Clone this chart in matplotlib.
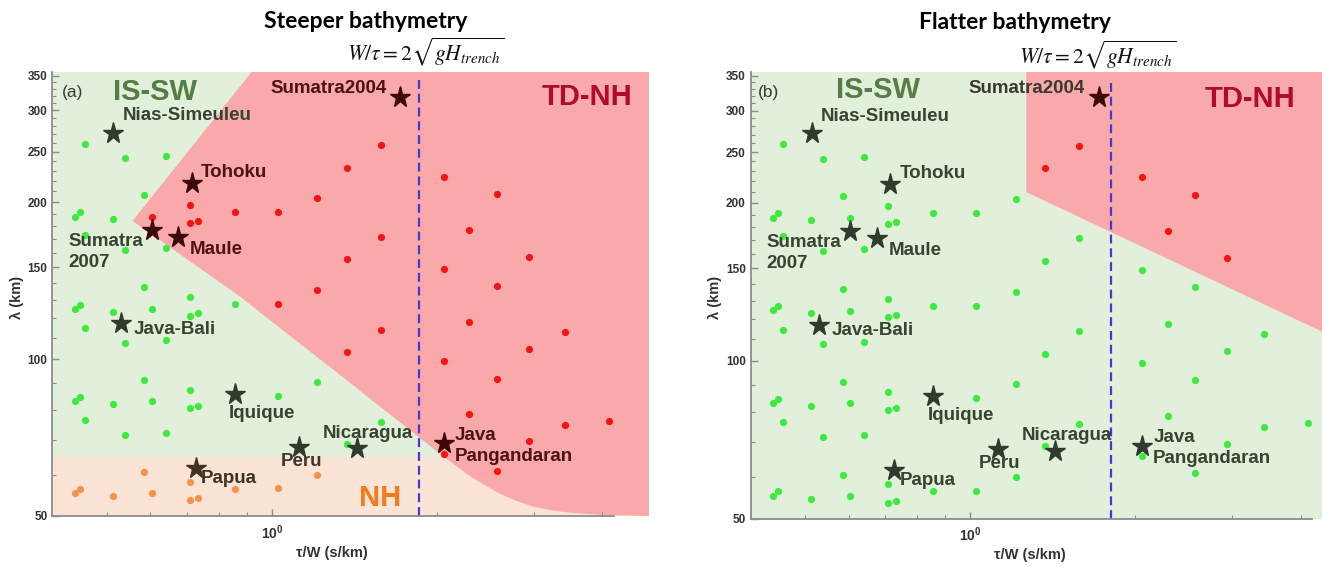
import matplotlib
matplotlib.use('Agg')
import matplotlib.pyplot as plt
from matplotlib.ticker import FixedLocator, FixedFormatter, NullFormatter

plt.rcParams['font.family'] = ['Liberation Sans', 'DejaVu Sans']
plt.rcParams['mathtext.fontset'] = 'custom'
plt.rcParams['mathtext.rm'] = 'Liberation Sans'
plt.rcParams['mathtext.bf'] = 'Liberation Sans:bold'

# model runs: tau/W (s/km) and wavelength lambda (km)
tau_w = [0.437, 0.447, 0.5126, 0.586, 0.604, 0.708, 0.708, 0.733, 0.857, 1.026, 1.211,
         0.437, 0.447, 0.5126, 0.586, 0.604, 0.708, 0.708, 0.733, 1.026, 1.211,
         0.437, 0.447, 0.5126, 0.586, 0.604, 0.708, 0.708, 0.733, 0.857, 1.026, 1.211,
         0.437, 0.447, 0.5126, 0.586, 0.604, 0.708, 0.708, 0.733, 0.857, 1.026, 1.211,
         0.456, 0.539, 0.641, 1.37, 1.58, 2.056, 2.291, 2.573, 2.943, 3.43, 4.124,
         0.456, 0.539, 0.641, 1.37, 1.58, 2.056, 2.291, 2.573, 2.943, 3.43,
         0.456, 0.539, 0.641, 1.37, 1.58, 2.056, 2.291, 2.573, 2.943,
         0.456, 0.539, 0.641, 1.37, 1.58, 2.056, 2.573]
lam = [55.3, 56.3, 54.5, 60.6, 55.3, 58.2, 53.6, 54.1, 56.4, 56.5, 59.9,
       83.2, 84.5, 82.0, 91.2, 83.0, 87.3, 80.7, 81.4, 84.8, 90.3,
       124.9, 126.9, 123.3, 137.3, 124.6, 131.3, 121.2, 122.4, 127.3, 127.3, 135.5,
       187.6, 191.2, 185.4, 206.1, 187.6, 197.6, 182.1, 184.1, 191.5, 191.5, 203.7,
       76.3, 71.5, 72.2, 68.7, 75.7, 65.9, 78.3, 61.0, 69.5, 74.9, 76.2,
       114.6, 107.6, 108.6, 103.1, 113.8, 99.0, 117.7, 91.7, 104.5, 112.5,
       173.0, 161.7, 163.2, 155.3, 171.3, 148.8, 176.9, 138.3, 157.1,
       258.8, 242.9, 245.1, 233.1, 257.3, 223.7, 207.0]
# regime of each run: G = IS-SW, R = TD-NH, O = NH
regime_steep = list('OOOOOOOOOOO' 'GGGGGGGGGG' 'GGGGGGGGGRR' 'GGGGRRRRRRR'
                    'GGGGGRRRRRR' 'GGGRRRRRRR' 'GGGRRRRRR' 'GGGRRRR')
regime_flat = list('GGGGGGGGGGG' 'GGGGGGGGGG' 'GGGGGGGGGGG' 'GGGGGGGGGGG'
                   'GGGGGGGGGGG' 'GGGGGGGGGG' 'GGGGGGRGR' 'GGGRRRR')

# historical events
events = ['Nias-Simeuleu', 'Sumatra2004', 'Tohoku', 'Sumatra\n2007', 'Maule', 'Java-Bali',
          'Iquique', 'Peru', 'Nicaragua', 'Papua', 'Java\nPangandaran']
event_tau_w = [0.514, 1.714, 0.7145, 0.604, 0.6755, 0.531, 0.857, 1.122, 1.427, 0.726, 2.056]
event_lam = [272.0, 318.0, 217.5, 177.0, 171.8, 117.2, 85.6, 67.9, 67.4, 61.8, 68.9]
event_regime_steep = ['G', 'R', 'R', 'R', 'R', 'G', 'G', 'G', 'G', 'O', 'R']
event_text_steep = ['G', 'R', 'R', 'G', 'R', 'G', 'G', 'N', 'G', 'O', 'R']
event_regime_flat = ['G', 'R', 'G', 'G', 'G', 'G', 'G', 'G', 'G', 'G', 'G']
event_text_flat = ['G', 'N', 'G', 'G', 'G', 'G', 'G', 'G', 'G', 'G', 'G']

# regime boundaries
steep_td_x = [0.9194, 0.5574, 0.8753, 1.126, 1.294, 1.492, 1.714, 1.857, 2.054, 2.272,
              2.45, 2.61, 2.8, 3.0, 3.22, 3.46, 3.7, 3.97, 4.25, 4.56, 4.87, 4.87]
steep_td_y = [356, 184.2, 131.8, 107.0, 95.5, 84.8, 75.6, 70.75, 65.1, 60.1,
              57.2, 55.1, 53.4, 52.1, 51.3, 50.8, 50.5, 50.3, 50.15, 50.08, 50.03, 356]
steep_nh_top = 65.0
flat_td_x = [1.265, 1.265, 4.87, 4.87]
flat_td_y = [356, 209.8, 107.8, 356]
trench_line = {'steep': 1.858, 'flat': 1.805}

xmin, xmax = 0.398, 4.87
ymin, ymax = 50, 356

bg_green = '#e2efda'
bg_red = '#f9a9a9'
bg_nh = '#fbe3d5'
pt_col = {'G': '#3fea3f', 'R': '#f51414', 'O': '#f4934a'}
star_col = {'G': '#2f3b2c', 'R': '#3c0808', 'O': '#3e3424'}
text_col = {'G': '#364432', 'R': '#4e1212', 'O': '#3e3424', 'N': '#3e3830'}

# label offsets in points (dx, dy) and alignment
offsets = [(6.8, 12.0), (-10, 6.5), (6.7, 7.7), (-60, -16.2), (8.4, -9.6), (9.1, -4.3),
           (-4.3, -13.7), (-13.3, -10.8), (-24.2, 10.8), (3.9, -7.2), (8.1, -1.6)]
aligns = ['left', 'right', 'left', 'left', 'left', 'left', 'left', 'left', 'left', 'left', 'left']

W, H = 1322, 566
fig = plt.figure(figsize=(W / 100, H / 100), dpi=100)


def make_axes(left_px, top_px, bottom_px):
    width_px = 596.7
    return fig.add_axes([left_px / W, 1 - bottom_px / H, width_px / W, (bottom_px - top_px) / H])


def style_axes(ax):
    ax.set_xscale('log')
    ax.set_yscale('log')
    ax.set_xlim(xmin, xmax)
    ax.set_ylim(ymin, ymax)
    ax.set_facecolor(bg_green)
    for s in ['top', 'right']:
        ax.spines[s].set_visible(False)
    for s in ['left', 'bottom']:
        ax.spines[s].set_color('#8c8c8c')
        ax.spines[s].set_linewidth(1.3)
    ax.spines['bottom'].set_bounds(xmin, 4.2)
    ax.xaxis.set_major_locator(FixedLocator([1.0]))
    ax.xaxis.set_major_formatter(FixedFormatter([r'$\mathbf{10^{0}}$']))
    ax.xaxis.set_minor_locator(FixedLocator([0.5, 0.6, 0.7, 0.8, 0.9, 2, 3, 4]))
    ax.xaxis.set_minor_formatter(NullFormatter())
    ax.yaxis.set_major_locator(FixedLocator([50, 100, 150, 200, 250, 300, 350]))
    ax.yaxis.set_major_formatter(FixedFormatter(['50', '100', '150', '200', '250', '300', '350']))
    ax.yaxis.set_minor_locator(FixedLocator([v for v in range(60, 350, 10) if v % 50 != 0]))
    ax.yaxis.set_minor_formatter(NullFormatter())
    ax.tick_params(which='both', direction='in', color='#8c8c8c', labelcolor='#333333',
                   labelsize=8.5)
    ax.tick_params(which='major', length=5, width=1)
    ax.tick_params(which='minor', length=3, width=0.8)
    ax.tick_params(axis='x', pad=5, labelsize=10)
    for lab in ax.get_xticklabels() + ax.get_yticklabels():
        lab.set_fontweight('bold')


def draw_panel(ax, regimes, ev_regimes, ev_text, dash_x):
    ax.plot([dash_x, dash_x], [ymin, 345], color='#4a36d6', lw=1.6, dashes=(4, 2.2), zorder=2)
    for reg in ['G', 'O', 'R']:
        xs = [x for x, r in zip(tau_w, regimes) if r == reg]
        ys = [y for y, r in zip(lam, regimes) if r == reg]
        ax.plot(xs, ys, 'o', ms=5.2, color=pt_col[reg], mec='none', zorder=3)
    for i, name in enumerate(events):
        c = star_col[ev_regimes[i]]
        ax.plot(event_tau_w[i], event_lam[i], marker='*', ms=15.5, color=c, mec=c, zorder=4)
        ax.annotate(name, (event_tau_w[i], event_lam[i]), xytext=offsets[i],
                    textcoords='offset points', ha=aligns[i], va='center',
                    fontsize=13.5, fontweight='bold', color=text_col[ev_text[i]],
                    linespacing=1.3, zorder=5)


# (a) steeper bathymetry
ax1 = make_axes(52.3, 71.7, 516)
style_axes(ax1)
ax1.fill_between([xmin, xmax], ymin, steep_nh_top, color=bg_nh, lw=0, zorder=0.5)
ax1.fill(steep_td_x, steep_td_y, color=bg_red, lw=0, zorder=0.6)
draw_panel(ax1, regime_steep, event_regime_steep, event_text_steep, trench_line['steep'])

# (b) flatter bathymetry
ax2 = make_axes(750.7, 71.7, 518.5)
style_axes(ax2)
ax2.fill(flat_td_x, flat_td_y, color=bg_red, lw=0, zorder=0.6)
draw_panel(ax2, regime_flat, event_regime_flat, event_text_flat, trench_line['flat'])


def px_text(x, y, s, **kw):
    return fig.text(x / W, 1 - y / H, s, **kw)


# regime labels
for x0, lab in [(62, '(a)'), (758, '(b)')]:
    px_text(x0, 92.5, lab, fontsize=12.5, color='#3a3a3a', va='center')
px_text(112.7, 91.7, 'IS-SW', fontsize=21, fontweight='bold', color='#557d44', va='center')
px_text(836, 90, 'IS-SW', fontsize=21, fontweight='bold', color='#557d44', va='center')
px_text(542, 97, 'TD-NH', fontsize=21, fontweight='bold', color='#b20a2c', va='center')
px_text(1205, 99.3, 'TD-NH', fontsize=21, fontweight='bold', color='#b20a2c', va='center')
px_text(359, 498, 'NH', fontsize=21, fontweight='bold', color='#f47a20', va='center')

# titles and formula
px_text(366, 28, 'Steeper bathymetry', fontsize=16.5, fontweight='bold', family='Lato',
        ha='center', va='baseline')
px_text(1015, 29.3, 'Flatter bathymetry', fontsize=16.5, fontweight='bold', family='Lato',
        ha='center', va='baseline')
formula = r'$W/\tau = 2\sqrt{gH_{trench}}$'
px_text(426, 60, formula, fontsize=15.5, ha='center', va='baseline', color='#111111',
        math_fontfamily='stix')
px_text(1097.5, 63, formula, fontsize=15.5, ha='center', va='baseline', color='#111111',
        math_fontfamily='stix')

# axis labels
for xc, yc in [(332, 553), (1030, 555)]:
    px_text(xc, yc, 'τ/W (s/km)', fontsize=10.5, fontweight='bold', ha='center', va='center',
            color='#333333')
for xc in [17, 715]:
    px_text(xc, 297, 'λ (km)', fontsize=10.5, fontweight='bold', rotation=90, ha='center',
            va='center', color='#333333')

fig.savefig('out.png', dpi=100)
